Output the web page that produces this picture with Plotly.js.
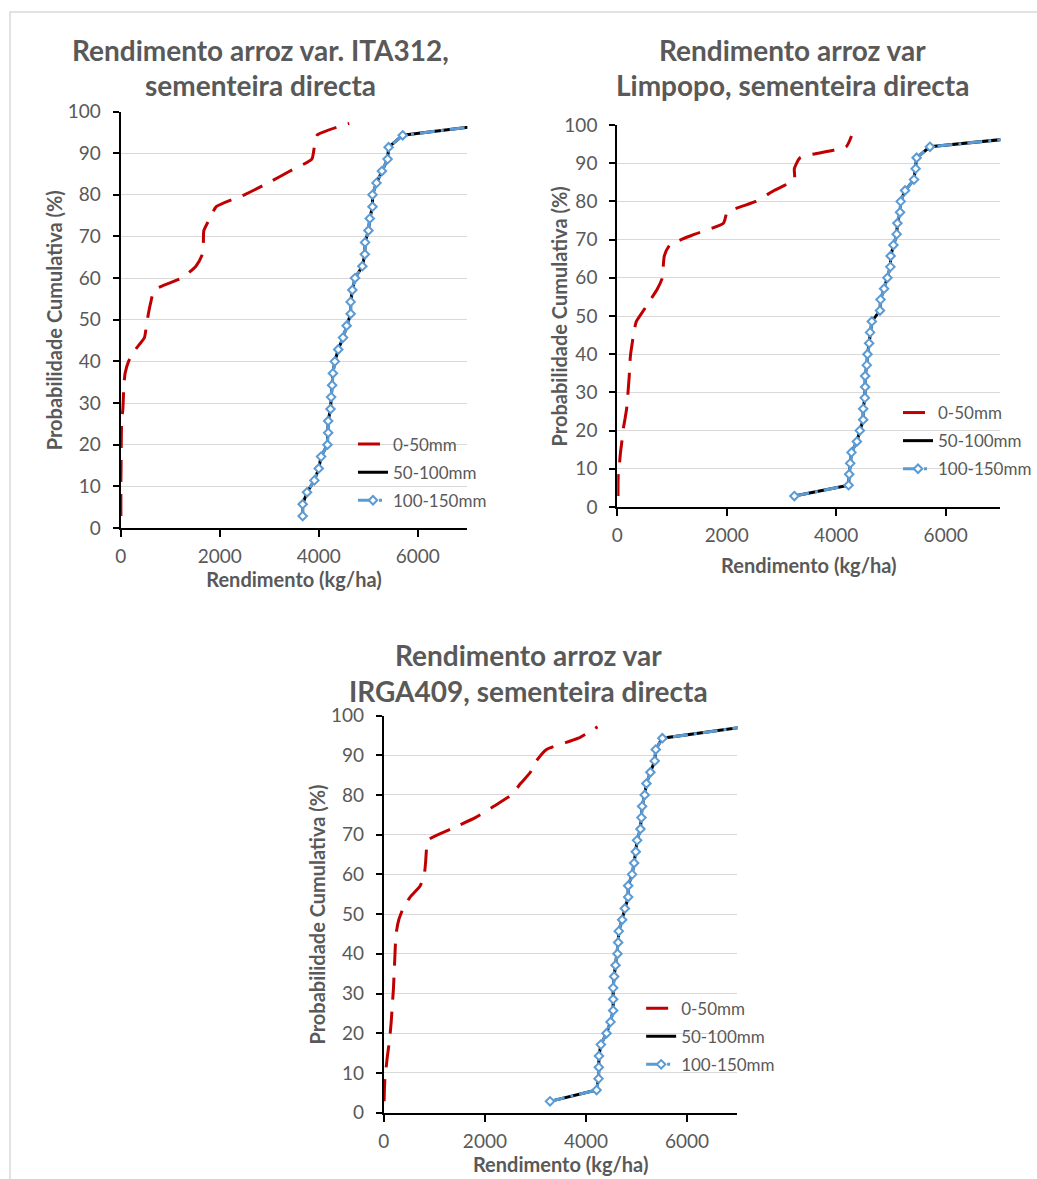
<!DOCTYPE html>
<html>
<head>
<meta charset="utf-8">
<script src="https://cdn.plot.ly/plotly-3.0.1.min.js"></script>
<style>
  html, body { margin: 0; padding: 0; background: #ffffff; }
  #chart { width: 1037px; height: 1179px; }
</style>
</head>
<body>
<div id="chart"></div>
<script>
// ---------- DATA ----------
const seriesNames = ['0-50mm', '50-100mm', '100-150mm'];
const chartTitles = [
  ['Rendimento arroz var. ITA312,', 'sementeira directa'],
  ['Rendimento arroz var', 'Limpopo, sementeira directa'],
  ['Rendimento arroz var', 'IRGA409, sementeira directa']
];
const xTitle = 'Rendimento (kg/ha)';
const yTitle = 'Probabilidade Cumulativa (%)';

// cumulative probability (%) of each ranked year
const probability = [2.86, 5.71, 8.57, 11.43, 14.29, 17.14, 20, 22.86, 25.71, 28.57,
  31.43, 34.29, 37.14, 40, 42.86, 45.71, 48.57, 51.43, 54.29, 57.14,
  60, 62.86, 65.71, 68.57, 71.43, 74.29, 77.14, 80, 82.86, 85.71,
  88.57, 91.43, 94.29, 97.14];

// ITA312 yields (kg/ha)
const ita312_0_50 = [5, 5, 5, 5, 8, 10, 12, 15, 20, 45,
  55, 65, 90, 160, 300, 480, 520, 560, 610, 680,
  1230, 1520, 1650, 1670, 1680, 1800, 1930, 2500, 2980, 3420,
  3860, 3910, 3965, 4615];
const ita312_50_100 = [3675, 3675, 3763, 3912, 4000, 4047, 4175, 4190, 4190, 4237,
  4250, 4270, 4285, 4325, 4393, 4490, 4563, 4644, 4644, 4678,
  4732, 4880, 4930, 4935, 5003, 5030, 5085, 5085, 5166, 5275,
  5390, 5410, 5695, 7650];
const ita312_100_150 = [3675, 3675, 3763, 3912, 4000, 4047, 4175, 4190, 4190, 4237,
  4250, 4270, 4285, 4325, 4393, 4490, 4563, 4644, 4644, 4678,
  4732, 4880, 4930, 4935, 5003, 5030, 5085, 5085, 5166, 5275,
  5390, 5410, 5695, 7650];

// Limpopo yields (kg/ha)
const limpopo_0_50 = [15, 15, 20, 42, 60, 85, 105, 140, 172, 190,
  205, 220, 228, 245, 274, 303, 350, 480, 610, 735,
  825, 840, 860, 960, 1420, 1940, 2010, 2530, 2866, 3236,
  3236, 3340, 4180, 4280];
const limpopo_50_100 = [3236, 4226, 4238, 4256, 4280, 4378, 4432, 4493, 4493, 4523,
  4529, 4529, 4560, 4572, 4602, 4620, 4651, 4800, 4810, 4875,
  4936, 4990, 4995, 5045, 5106, 5118, 5167, 5179, 5258, 5422,
  5452, 5470, 5713, 7680];
const limpopo_100_150 = [3236, 4226, 4238, 4256, 4280, 4378, 4432, 4493, 4493, 4523,
  4529, 4529, 4560, 4572, 4602, 4620, 4651, 4800, 4810, 4875,
  4936, 4990, 4995, 5045, 5106, 5118, 5167, 5179, 5258, 5422,
  5452, 5470, 5713, 7680];

// IRGA409 yields (kg/ha)
const irga409_0_50 = [5, 10, 20, 45, 70, 100, 125, 145, 160, 175,
  190, 200, 210, 220, 230, 250, 295, 380, 520, 720,
  800, 825, 840, 870, 1330, 1810, 2175, 2525, 2706, 2900,
  3020, 3220, 3850, 4230];
const irga409_50_100 = [3289, 4211, 4250, 4255, 4258, 4296, 4408, 4487, 4539, 4539,
  4539, 4559, 4586, 4625, 4638, 4651, 4717, 4770, 4836, 4836,
  4914, 4954, 4987, 5013, 5079, 5099, 5112, 5164, 5197, 5276,
  5362, 5382, 5513, 7150];
const irga409_100_150 = [3289, 4211, 4250, 4255, 4258, 4296, 4408, 4487, 4539, 4539,
  4539, 4559, 4586, 4625, 4638, 4651, 4717, 4770, 4836, 4836,
  4914, 4954, 4987, 5013, 5079, 5099, 5112, 5164, 5197, 5276,
  5362, 5382, 5513, 7150];

const xTickValues = [0, 2000, 4000, 6000];
const yTickValues = [0, 10, 20, 30, 40, 50, 60, 70, 80, 90, 100];

// ---------- LAYOUT / STYLE ----------
const W = 1037, H = 1179;
const FONT = 'Lato, "Open Sans", sans-serif';
const GREY = '#595959';

const panels = [
  { data: [ita312_0_50, ita312_50_100, ita312_100_150], xa: 'x', ya: 'y', lg: 'legend',
    px: [121, 468.7], py: [111.5, 528], title: [261.5, 50, 85], yTitlePos: [54, 320.5],
    xTitleStandoff: 2, legendPos: [354, 426.5] },
  { data: [limpopo_0_50, limpopo_50_100, limpopo_100_150], xa: 'x2', ya: 'y2', lg: 'legend2',
    px: [619, 1003.3], py: [125, 507], title: [794.5, 50, 85.5], yTitlePos: [561, 316],
    xTitleStandoff: 14, legendPos: [901, 395] },
  { data: [irga409_0_50, irga409_50_100, irga409_100_150], xa: 'x3', ya: 'y3', lg: 'legend3',
    px: [385, 739.6], py: [715.5, 1112.7], title: [530, 655, 691], yTitlePos: [317, 914.5],
    xTitleStandoff: 6, legendPos: [643, 990.6] }
];

const styles = [
  { mode: 'lines', line: { color: '#C00000', width: 3, dash: '22px,12px', shape: 'spline', smoothing: 0.5 } },
  { mode: 'lines', line: { color: '#000000', width: 3 } },
  { mode: 'lines+markers', line: { color: '#5B9BD5', width: 3, dash: 'longdashdot' },
    marker: { symbol: 'diamond', size: 6.5, color: '#ffffff', line: { color: '#5B9BD5', width: 2 } } }
];

const traces = [];
const layout = {
  width: W, height: H,
  margin: { l: 0, r: 0, t: 0, b: 0 },
  paper_bgcolor: '#ffffff', plot_bgcolor: '#ffffff',
  font: { family: FONT, color: GREY },
  annotations: [],
  shapes: [{
    type: 'rect', xref: 'paper', yref: 'paper',
    x0: 10 / W, x1: 1.2, y0: -0.2, y1: 1 - 12 / H,
    line: { color: '#d9d9d9', width: 1.5 }, fillcolor: 'rgba(0,0,0,0)', layer: 'below'
  }]
};

panels.forEach((p, i) => {
  seriesNames.forEach((name, s) => {
    traces.push(Object.assign({
      type: 'scatter', name: name, x: p.data[s], y: probability,
      xaxis: p.xa, yaxis: p.ya, legend: p.lg, legendgroup: p.lg + name,
      hoverinfo: 'x+y+name'
    }, JSON.parse(JSON.stringify(styles[s]))));
  });
  const xk = 'xaxis' + (i ? i + 1 : '');
  const yk = 'yaxis' + (i ? i + 1 : '');
  layout[xk] = {
    domain: [p.px[0] / W, p.px[1] / W], anchor: p.ya,
    range: [0, 7000], tickvals: xTickValues, ticktext: xTickValues.map(String),
    showgrid: false, zeroline: false, showline: true, linecolor: '#000000', linewidth: 2,
    ticks: 'outside', ticklen: 7, tickwidth: 2, tickcolor: '#000000',
    tickfont: { family: FONT, size: 19, color: GREY }, ticklabelstandoff: 3,
    title: { text: xTitle, font: { family: FONT, size: 20, color: GREY, weight: 'bold' }, standoff: p.xTitleStandoff },
    fixedrange: true
  };
  layout[yk] = {
    domain: [1 - p.py[1] / H, 1 - p.py[0] / H], anchor: p.xa,
    range: [0, 100], tickvals: yTickValues, ticktext: yTickValues.map(String),
    showgrid: true, gridcolor: '#d9d9d9', gridwidth: 1, zeroline: false,
    showline: true, linecolor: '#000000', linewidth: 2,
    ticks: 'outside', ticklen: 6, tickwidth: 2, tickcolor: '#000000',
    tickfont: { family: FONT, size: 19, color: GREY }, ticklabelstandoff: 8,
    fixedrange: true
  };
  layout[p.lg] = {
    x: p.legendPos[0] / W, y: 1 - p.legendPos[1] / H, xanchor: 'left', yanchor: 'top',
    bgcolor: 'rgba(0,0,0,0)', borderwidth: 0, tracegroupgap: 3,
    font: { family: FONT, size: 17, color: GREY }
  };
  // chart title (two lines)
  p.title.slice(1).forEach((yy, li) => {
    layout.annotations.push({
      xref: 'paper', yref: 'paper', x: p.title[0] / W, y: 1 - yy / H,
      xanchor: 'center', yanchor: 'middle', showarrow: false,
      text: chartTitles[i][li],
      font: { family: FONT, size: 28, color: GREY, weight: 'bold' }
    });
  });
  // vertical axis title
  layout.annotations.push({
    xref: 'paper', yref: 'paper', x: p.yTitlePos[0] / W, y: 1 - p.yTitlePos[1] / H,
    xanchor: 'center', yanchor: 'middle', showarrow: false, textangle: -90,
    text: yTitle,
    font: { family: FONT, size: 20, color: GREY, weight: 'bold' }
  });
});

Plotly.newPlot('chart', traces, layout, { displayModeBar: false, staticPlot: true });
</script>
</body>
</html>
